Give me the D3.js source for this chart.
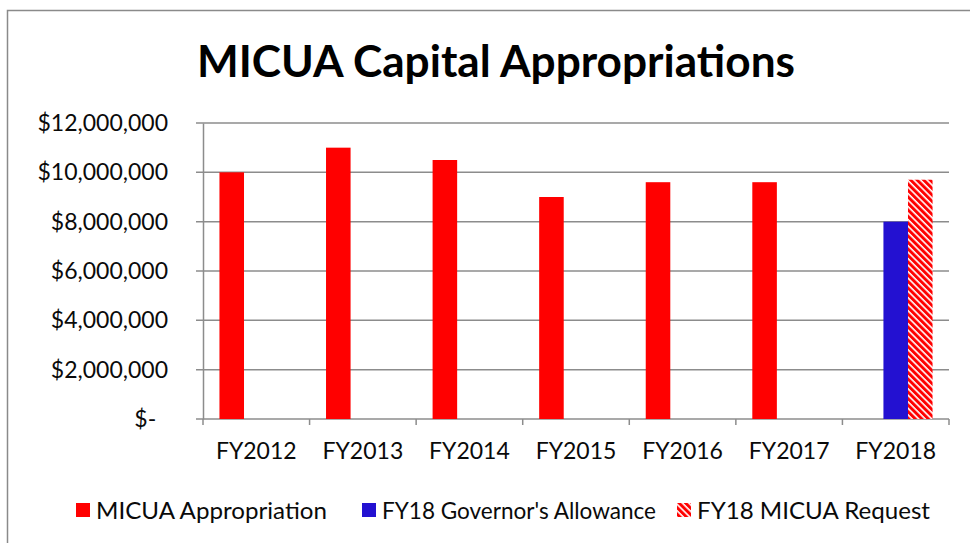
<!DOCTYPE html>
<html>
<head>
<meta charset="utf-8">
<script src="https://cdn.jsdelivr.net/npm/d3@7"></script>
<style>
  html, body { margin: 0; padding: 0; background: #fff; }
  svg { display: block; font-family: Lato, "Open Sans", sans-serif; }
</style>
</head>
<body>
<svg id="chart" width="970" height="543"></svg>
<script>
// ---- data ----
const categories = ["FY2012", "FY2013", "FY2014", "FY2015", "FY2016", "FY2017", "FY2018"];
const seriesNames = ["MICUA Appropriation", "FY18 Governor's Allowance", "FY18 MICUA Request"];
const appropriation = [10000000, 11000000, 10500000, 9000000, 9600000, 9600000, null];
const governorAllowance = [null, null, null, null, null, null, 8000000];
const micuaRequest = [null, null, null, null, null, null, 9700000];
const yTicks = [0, 2000000, 4000000, 6000000, 8000000, 10000000, 12000000];
const yTickLabels = ["$-", "$2,000,000", "$4,000,000", "$6,000,000", "$8,000,000", "$10,000,000", "$12,000,000"];
const titleText = "MICUA Capital Appropriations";

const seriesValues = [appropriation, governorAllowance, micuaRequest];

const svg = d3.select("#chart");
const plot = { left: 203, right: 949, top: 123, bottom: 419 };
const gridColor = "#8c8c8c";
const textColor = "#0a0a0a";

// pattern for hatched series
const defs = svg.append("defs");
const pat = defs.append("pattern")
  .attr("id", "hatch")
  .attr("patternUnits", "userSpaceOnUse")
  .attr("width", 4.6).attr("height", 4.6)
  .attr("patternTransform", "rotate(-45)");
pat.append("rect").attr("width", 4.6).attr("height", 4.6).attr("fill", "#ffffff");
pat.append("rect").attr("width", 3).attr("height", 4.6).attr("fill", "#ff0000");

const fills = ["#ff0000", "#2311d1", "url(#hatch)"];

// outer frame
svg.append("rect")
  .attr("x", 7.5).attr("y", 10.5)
  .attr("width", 1000).attr("height", 600)
  .attr("fill", "none").attr("stroke", "#8a8a8a").attr("stroke-width", 1.5);

// title
svg.append("text")
  .attr("x", 496).attr("y", 77)
  .attr("text-anchor", "middle")
  .attr("font-weight", "bold")
  .attr("font-size", 44)
  .attr("fill", "#000")
  .attr("textLength", 598)
  .attr("lengthAdjust", "spacingAndGlyphs")
  .text(titleText);

// scales
const y = d3.scaleLinear().domain([0, 12000000]).range([plot.bottom, plot.top]);
const x0 = d3.scaleBand().domain(categories).range([plot.left, plot.right]).padding(0);
const x1 = d3.scaleBand().domain(seriesNames).range([0, x0.bandwidth()]).paddingInner(0).paddingOuter(0.67);

// gridlines
svg.append("g").selectAll("line")
  .data(yTicks)
  .join("line")
  .attr("x1", plot.left - 7).attr("x2", plot.right)
  .attr("y1", d => y(d)).attr("y2", d => y(d))
  .attr("stroke", gridColor).attr("stroke-width", 1.5);

// y axis
const yAxis = d3.axisLeft(y)
  .tickValues(yTicks)
  .tickSize(0)
  .tickPadding(35)
  .tickFormat((d, i) => yTickLabels[i] + (d === 0 ? "\u00a0\u00a0" : ""));
const gy = svg.append("g").attr("transform", `translate(${plot.left},0)`).call(yAxis);
gy.select(".domain").attr("stroke", gridColor).attr("stroke-width", 1.5);
gy.selectAll("text")
  .attr("font-size", 23)
  .attr("font-family", "Lato, sans-serif")
  .attr("fill", textColor);

// x axis
const xAxis = d3.axisBottom(x0).tickSize(0).tickPadding(24);
const gx = svg.append("g").attr("transform", `translate(0,${plot.bottom})`).call(xAxis);
gx.select(".domain").remove();
gx.selectAll("text")
  .attr("font-size", 23)
  .attr("font-family", "Lato, sans-serif")
  .attr("fill", textColor);
// boundary tick marks
const boundaries = categories.map(c => x0(c)).concat([plot.right]);
svg.append("g").selectAll("line")
  .data(boundaries)
  .join("line")
  .attr("x1", d => d).attr("x2", d => d)
  .attr("y1", plot.bottom).attr("y2", plot.bottom + 6)
  .attr("stroke", gridColor).attr("stroke-width", 1.5);

// bars
const barData = [];
seriesValues.forEach((vals, si) => {
  vals.forEach((v, ci) => {
    if (v != null) barData.push({ s: seriesNames[si], si, c: categories[ci], v });
  });
});
svg.append("g").selectAll("rect")
  .data(barData)
  .join("rect")
  .attr("x", d => x0(d.c) + x1(d.s))
  .attr("width", x1.bandwidth())
  .attr("y", d => y(d.v))
  .attr("height", d => y(0) - y(d.v))
  .attr("fill", d => fills[d.si]);

// legend
const legendX = [76, 362, 677];
const legendTextLen = [231, 274, 233];
const lg = svg.append("g");
seriesNames.forEach((name, i) => {
  const g = lg.append("g").attr("transform", `translate(${legendX[i]},503)`);
  g.append("rect").attr("width", 14).attr("height", 14).attr("fill", fills[i]);
  g.append("text")
    .attr("x", 20).attr("y", 16)
    .attr("font-size", 24)
    .attr("fill", textColor)
    .attr("textLength", legendTextLen[i])
    .attr("lengthAdjust", "spacingAndGlyphs")
    .text(name);
});
</script>
</body>
</html>
